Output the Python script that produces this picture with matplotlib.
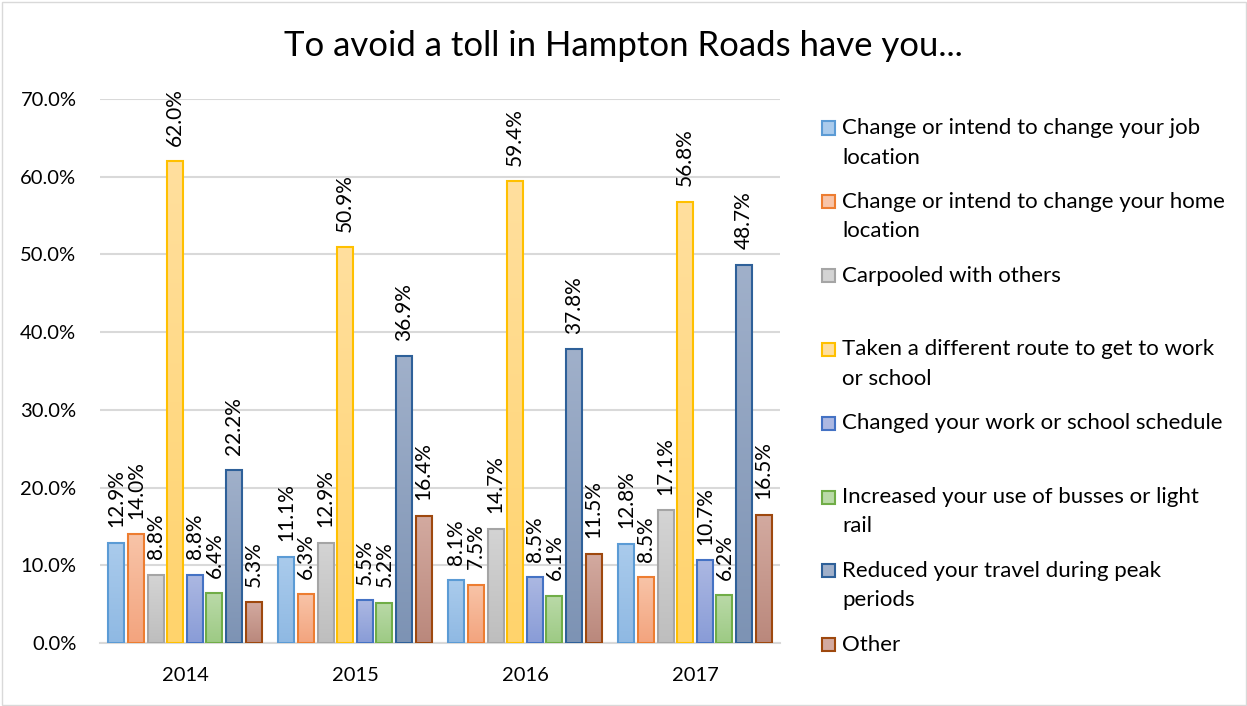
import matplotlib
matplotlib.use("Agg")
import matplotlib.pyplot as plt
import numpy as np
from matplotlib.colors import to_rgb
from matplotlib.patches import Rectangle

years = ["2014", "2015", "2016", "2017"]
series_names = [
    "Change or intend to change your job\nlocation",
    "Change or intend to change your home\nlocation",
    "Carpooled with others",
    "Taken a different route to get to work\nor school",
    "Changed your work or school schedule",
    "Increased your use of busses or light\nrail",
    "Reduced your travel during peak\nperiods",
    "Other",
]
job_location = [12.9, 11.1, 8.1, 12.8]
home_location = [14.0, 6.3, 7.5, 8.5]
carpooled = [8.8, 12.9, 14.7, 17.1]
different_route = [62.0, 50.9, 59.4, 56.8]
changed_schedule = [8.8, 5.5, 8.5, 10.7]
busses_rail = [6.4, 5.2, 6.1, 6.2]
reduced_peak = [22.2, 36.9, 37.8, 48.7]
other = [5.3, 16.4, 11.5, 16.5]
values = [job_location, home_location, carpooled, different_route,
          changed_schedule, busses_rail, reduced_peak, other]
y_ticks = [0, 10, 20, 30, 40, 50, 60, 70]

edge_colors = ["#5B9BD5", "#ED7D31", "#A5A5A5", "#FFC000",
               "#4472C4", "#70AD47", "#2E6099", "#9E480E"]
top_colors = ["#AACBEC", "#F8C4A8", "#D4D4D4", "#FFDF9E",
              "#ACB8E2", "#BADAA8", "#A0B0CA", "#D3AAA0"]
bot_colors = ["#8FB9E3", "#F3A47E", "#BEBEBE", "#FFD36C",
              "#899CD7", "#9DCA84", "#7D93B4", "#BA887C"]

plt.rcParams['font.family'] = ['Lato', 'DejaVu Sans']

W, H = 1247, 706
fig = plt.figure(figsize=(W / 100, H / 100), dpi=100)
ax = fig.add_axes([100 / W, 1 - 643 / H, 680 / W, 544 / H])

x = np.arange(len(years))
slot = 0.1153
bw = 0.094
for i, (vals, ec, tc, bc) in enumerate(zip(values, edge_colors, top_colors, bot_colors)):
    pos = x + (i - 3.5) * slot
    bars = ax.bar(pos, vals, width=bw, facecolor="none", edgecolor=ec,
                  linewidth=1.5, zorder=3)
    t = np.array(to_rgb(tc)); b = np.array(to_rgb(bc))
    for p, v in zip(bars.patches, vals):
        x0, y0 = p.get_x(), p.get_y()
        w, h = p.get_width(), p.get_height()
        frac = np.linspace(0, 1, 64)[:, None]
        grad = (b[None, :] * (1 - frac) + t[None, :] * frac)[:, None, :]
        ax.imshow(grad, extent=[x0, x0 + w, y0, y0 + h], origin='lower',
                  aspect='auto', zorder=2, interpolation='bilinear')
        ax.annotate(f"{v:.1f}%", (x0 + w / 2, y0 + h), xytext=(0, 11),
                    textcoords="offset points", rotation=90, ha="center",
                    va="bottom", fontsize=15, color="#000000", zorder=4)

ax.set_xlim(-0.5, 3.5)
ax.set_ylim(0, 70)
ax.set_yticks(y_ticks)
ax.set_yticklabels([f"{t:.1f}%" for t in y_ticks], fontsize=14.5)
ax.set_xticks(x)
ax.set_xticklabels(years, fontsize=14.5)
ax.tick_params(axis='both', length=0)
ax.tick_params(axis='y', pad=17)
ax.tick_params(axis='x', pad=17)
ax.grid(axis='y', color="#D9D9D9", linewidth=1.5, zorder=0)
ax.set_axisbelow(True)
for s in ["left", "right", "top"]:
    ax.spines[s].set_visible(False)
ax.spines["bottom"].set_color("#D9D9D9")
ax.spines["bottom"].set_linewidth(1.5)

fig.text(623 / W, 1 - 46 / H, "To avoid a toll in Hampton Roads have you...",
         ha="center", va="center", fontsize=25, color="#000000")

# legend (manual, evenly spaced like Excel)
for i, (name, ec, tc) in enumerate(zip(series_names, edge_colors, top_colors)):
    yc = 128 + 73.8 * i
    fig.patches.append(Rectangle((822 / W, 1 - (yc + 6.5) / H), 13 / W, 13 / H,
                                 transform=fig.transFigure, facecolor=tc,
                                 edgecolor=ec, linewidth=1.5))
    for k, line in enumerate(name.split("\n")):
        fig.text(842 / W, 1 - (yc + 29.5 * k) / H, line, ha="left",
                 va="center", fontsize=16, color="#000000")

fig.patches.append(Rectangle((1.5 / W, 1.5 / H), (W - 3) / W, (H - 3) / H,
                             transform=fig.transFigure, facecolor="none",
                             edgecolor="#D9D9D9", linewidth=1.0))

fig.savefig("out.png", dpi=100)
